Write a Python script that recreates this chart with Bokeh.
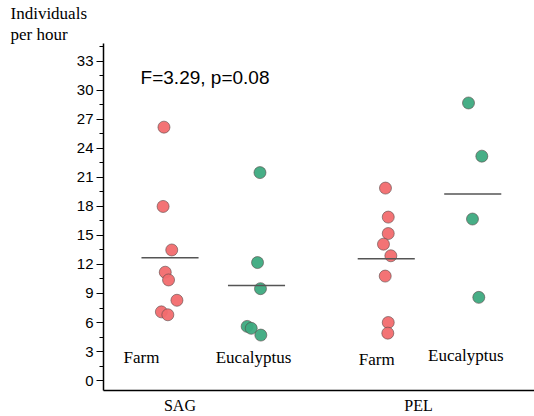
from bokeh.plotting import figure
from bokeh.models import Range1d, FixedTicker, Label, ColumnDataSource, Title
from bokeh.core.properties import value
from bokeh.embed import file_html
from bokeh.resources import INLINE

# ---- data ----
groups = ["SAG", "PEL"]
habitats = ["Farm", "Eucalyptus"]
sag_farm = [26.2, 18.0, 13.5, 11.2, 10.4, 8.3, 7.1, 6.8]
sag_euc = [21.5, 12.2, 9.5, 5.6, 5.4, 4.7]
pel_farm = [19.9, 16.9, 15.2, 14.1, 12.9, 10.8, 6.0, 4.9]
pel_euc = [28.7, 23.2, 16.7, 8.6]
y_ticks = list(range(0, 34, 3))
stat_text = "F=3.29, p=0.08"
y_title_lines = ["Individuals", "per hour"]

# jitter offsets (horizontal spread of the dots)
sag_farm_j = [-0.07, -0.08, 0.02, -0.055, -0.017, 0.08, -0.10, -0.025]
sag_euc_j = [0.04, 0.012, 0.046, -0.108, -0.061, 0.05]
pel_farm_j = [-0.009, 0.023, 0.023, -0.032, 0.053, -0.012, 0.023, 0.018]
pel_euc_j = [-0.049, 0.105, -0.003, 0.07]

centers = [1.0, 2.0, 3.5, 4.5]
series = [sag_farm, sag_euc, pel_farm, pel_euc]
jitters = [sag_farm_j, sag_euc_j, pel_farm_j, pel_euc_j]
RED = "#F26B6E"
GREEN = "#3DAA80"
colors = [RED, GREEN, RED, GREEN]

p = figure(width=534, height=416, output_backend="svg", toolbar_location=None,
           x_range=Range1d(0.231, 5.214), y_range=Range1d(-1.03, 34.85),
           min_border_left=103, min_border_right=0, min_border_top=43,
           min_border_bottom=24)
p.outline_line_color = None
p.grid.visible = False
p.background_fill_color = "white"
p.title.visible = False

# y-axis caption at the top-left, as two stacked single-line titles
fonts = ["serif", "'Liberation Serif', serif"]
for line, f in zip(reversed(y_title_lines), fonts):
    p.add_layout(Title(text=line, text_font=f, text_font_size="17px",
                       text_font_style="normal", text_color="black", align="left",
                       offset=-93, standoff=0), "above")

# y axis
ya = p.yaxis[0]
ya.ticker = FixedTicker(ticks=y_ticks, minor_ticks=[t + 1.5 for t in y_ticks[:-1]] + [34.5])
ya.major_label_text_font = "Liberation Sans"
ya.major_label_text_font_size = "15px"
ya.major_label_text_color = "black"
ya.axis_line_width = 1.5
ya.axis_line_color = "black"
ya.major_tick_line_color = "black"
ya.minor_tick_line_color = "black"
ya.major_tick_out = 7
ya.major_tick_in = 0
ya.minor_tick_out = 4
ya.minor_tick_in = 0
ya.major_label_standoff = 3

# x axis: line plus the two site names
xa = p.xaxis[0]
xa.ticker = FixedTicker(ticks=[1.115, 3.873])
xa.major_label_overrides = {1.115: groups[0], 3.873: groups[1]}
xa.major_tick_out = 0
xa.major_tick_in = 0
xa.minor_tick_out = 0
xa.minor_tick_in = 0
xa.axis_line_width = 1.5
xa.axis_line_color = "black"
xa.major_label_text_font = "Liberation Serif"
xa.major_label_text_font_size = "16px"
xa.major_label_text_color = "black"
xa.major_label_standoff = 6

for c, vals, jit, col in zip(centers, series, jitters, colors):
    xs = [c + j for j in jit]
    src = ColumnDataSource(dict(x=xs, y=vals))
    p.scatter("x", "y", source=src, size=12, fill_color=col, fill_alpha=0.95,
              line_color="#5a4a4a", line_alpha=0.6, line_width=1)
    m = sum(vals) / len(vals)
    p.segment(x0=[c - 0.33], y0=[m], x1=[c + 0.33], y1=[m],
              line_color="#555555", line_width=1.5)

# habitat labels inside the plot
hab_x = [0.67, 1.965, 3.39, 4.42]
hab_y = [2.36, 2.36, 2.16, 2.57]
hab_t = [habitats[0], habitats[1], habitats[0], habitats[1]]
p.text(x=hab_x, y=hab_y, text=hab_t, text_font=value("Liberation Serif"),
       text_font_size="17px", text_align="center", text_baseline="middle",
       text_color="black")

# statistic
p.add_layout(Label(x=0.66, y=31.36, text=stat_text, text_font="Liberation Sans",
                   text_font_size="19px", text_align="left", text_baseline="middle",
                   text_color="black"))

open("out.html", "w").write(file_html(p, INLINE))
